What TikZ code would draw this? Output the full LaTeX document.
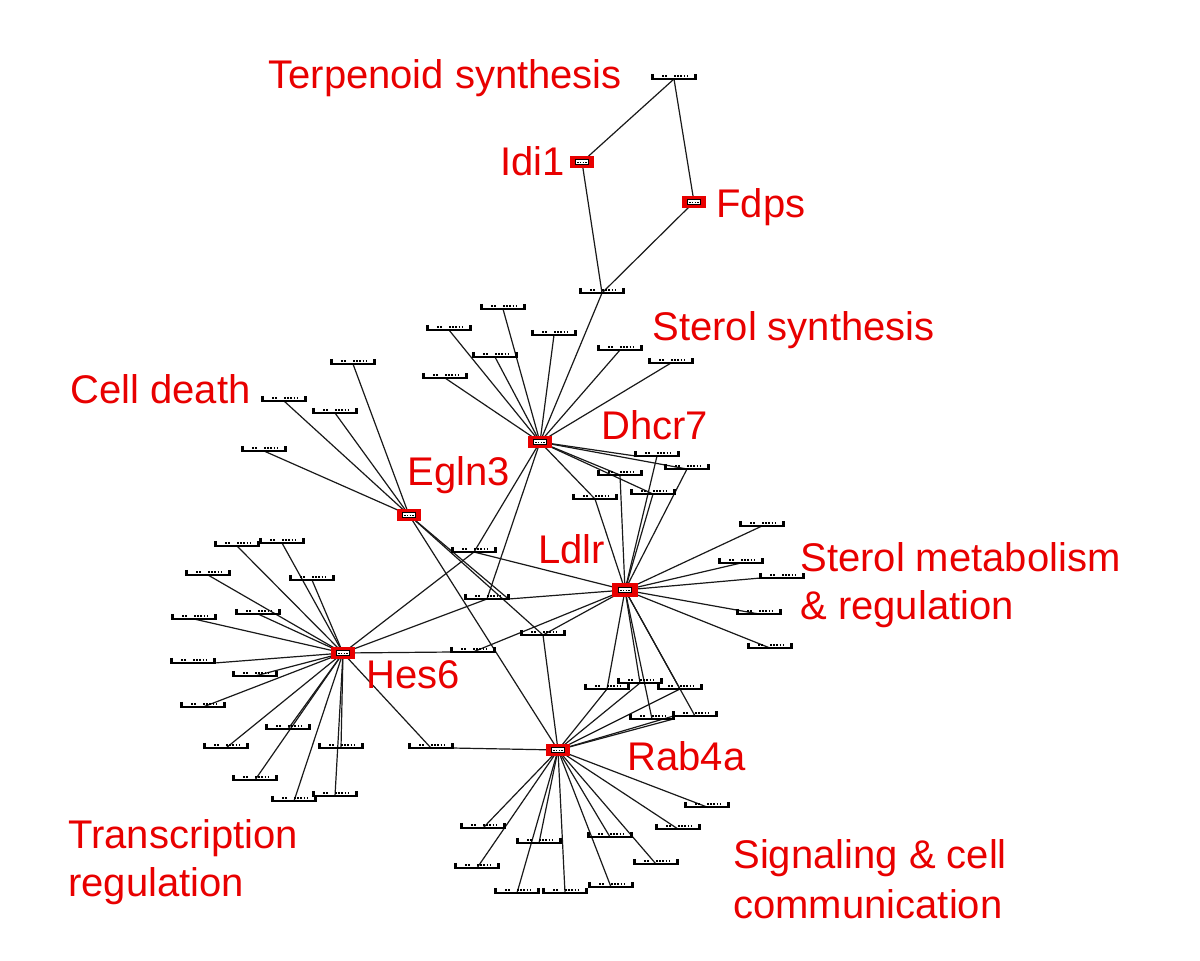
\documentclass[tikz,border=0pt]{standalone}
\usepackage{fontspec}
\setmainfont{Liberation Sans}
\usetikzlibrary{backgrounds}
\definecolor{lblred}{RGB}{232,0,0}
\begin{document}
\begin{tikzpicture}[x=0.5pt,y=-0.5pt,
  leaf/.style={inner sep=0pt, minimum width=21.5pt, minimum height=0pt, outer sep=0pt},
  bracket/.style={black, line width=1.1pt},
  tinytext/.style={black, line width=0.7pt, dash pattern=on 0.9pt off 0.7pt},
  hub/.style={draw=lblred, fill=lblred, line width=0.6pt, inner sep=0pt,
    minimum width=11pt, minimum height=5pt,
    path picture={
      \draw[black, fill=white, line width=0.45pt]
        ([shift={(-3.4pt,-1.1pt)}]path picture bounding box.center) rectangle
        ([shift={(3.4pt,1.1pt)}]path picture bounding box.center);
      \draw[black, line width=0.5pt, dash pattern=on 0.7pt off 0.6pt]
        ([shift={(-2.3pt,0pt)}]path picture bounding box.center) --
        ([shift={(2.3pt,0pt)}]path picture bounding box.center);}},
  lbl/.style={text=lblred, font=\fontsize{20}{24}\selectfont, inner sep=0pt, anchor=base west},
  edge/.style={black!90, line width=0.6pt},
]
\useasboundingbox (0,0) rectangle (1200,960);

% ---------- hubs ----------
\node[hub] (Idi1)  at (582,162) {};
\node[hub] (Fdps)  at (694,202) {};
\node[hub] (Dhcr7) at (540,442) {};
\node[hub] (Egln3) at (409,515) {};
\node[hub, minimum width=12pt, minimum height=6pt] (Ldlr) at (625,590) {};
\node[hub] (Hes6)  at (343,653) {};
\node[hub] (Rab4a) at (558,750) {};

% ---------- leaves ----------
\foreach \n/\x/\y in {
  T0/674/79, S0/602/293,
  nA/503/309, nB/449/330, nC/554/335, nD/495/357, nE/620/350, nF/671/363, nG/445/378,
  nH/657/456, nI/687/469, nJ/620/475, nK/653/494, nL/595/499,
  nM/474/552, nN/487/599, nO/473/652, nP/543/635,
  nQ/353/364, nS/284/401, nT/335/413, nU/264/451,
  h1/237/546, h2/282/543, h3/208/575, h4/312/580, h5/258/614, h6/194/619,
  h7/193/663, h8/255/676, h9/203/707, h10/288/729, h11/226/748, h12/341/748,
  h13/255/780, h14/294/801, h15/335/796, h16/431/748,
  r1/762/526, r2/741/563, r3/782/578, r4/759/614, r5/770/648,
  d1/607/689, d2/640/683, d3/680/689, d4/652/719, d5/695/716,
  b1/483/828, b2/539/843, b3/477/868, b4/517/893, b5/565/893,
  b6/611/887, b7/610/837, b8/656/864, b9/678/829, b10/707/807}
{
  \node[leaf] (\n) at (\x,\y) {};
  \draw[bracket] ([yshift=2.6pt]\n.west) -- (\n.west) -- (\n.east) -- ([yshift=2.6pt]\n.east);
  \draw[tinytext] ([shift={(-6pt,1.6pt)}]\n.center) -- ++(2.6pt,0pt);
  \draw[tinytext] ([shift={(0pt,1.6pt)}]\n.center) -- ++(6.5pt,0pt);
}

% ---------- edges ----------
\begin{scope}[on background layer]
\fill[white] (0,0) rectangle (1200,960);
% terpenoid
\draw[edge] (Idi1.center) -- (T0.center);
\draw[edge] (Fdps.center) -- (T0.center);
\draw[edge] (Idi1.center) -- (S0.center);
\draw[edge] (Fdps.center) -- (S0.center);
\draw[edge] (S0.center) -- (Dhcr7.center);
% sterol synthesis
\foreach \n in {nA,nB,nC,nD,nE,nF,nG,nI,nJ,nK,nL,nM,nN}
  \draw[edge] (\n.center) -- (Dhcr7.center);
\draw[edge] (nH.west) -- (Dhcr7.center);
\foreach \n in {nH,nI,nJ,nK,nL,nM,nO,nP}
  \draw[edge] (\n.center) -- (Ldlr.center);
\draw[edge] (nN.east) -- (Ldlr.center);
% middle
\draw[edge] (nM.center) -- (Hes6.center);
\draw[edge] (nN.center) -- (Hes6.center);
\draw[edge] (nO.west) -- (Hes6.center);
\draw[edge] (nP.center) -- (Rab4a.center);
\draw[edge] (nN.east) -- (Egln3.center);
\draw[edge] (nP.center) -- (Egln3.center);
\draw[edge] (Egln3.center) -- (Rab4a.center);
% cell death
\foreach \n in {nQ,nS,nT,nU}
  \draw[edge] (\n.center) -- (Egln3.center);
% transcription regulation
\foreach \n in {h1,h2,h3,h4,h5,h6,h8,h9,h10,h11,h12,h13,h14,h15,h16}
  \draw[edge] (\n.center) -- (Hes6.center);
\draw[edge] (h7.east) -- (Hes6.center);
\draw[edge] (h16.east) -- (Rab4a.center);
% sterol metabolism
\foreach \n in {r1,r2,r4,r5,d1,d2,d3,d4,d5}
  \draw[edge] (\n.center) -- (Ldlr.center);
\draw[edge] (r3.west) -- (Ldlr.center);
\foreach \n in {d1,d2,d3}
  \draw[edge] (\n.center) -- (Rab4a.center);
\draw[edge] (d4.east) -- (Rab4a.center);
\draw[edge] (d5.west) -- (Rab4a.center);
% signaling
\foreach \n in {b1,b2,b3,b4,b5,b6,b7,b8,b9,b10}
  \draw[edge] (\n.center) -- (Rab4a.center);
\end{scope}

% ---------- labels ----------
\node[lbl] (lTerp)  at (268,88)  {Terpenoid synthesis};
\node[lbl] (lIdi)   at (500,175) {Idi1};
\node[lbl] (lFdps)  at (716,217) {Fdps};
\node[lbl] (lSter)  at (652,340) {Sterol synthesis};
\node[lbl] (lCell)  at (70,403)  {Cell death};
\node[lbl] (lDhcr)  at (601,439) {Dhcr7};
\node[lbl] (lEgln)  at (407,485) {Egln3};
\node[lbl] (lLdlr)  at (538,563) {Ldlr};
\node[lbl] (lMetA)  at (800,571) {Sterol metabolism};
\node[lbl] (lMetB)  at (800,619) {\& regulation};
\node[lbl] (lHes)   at (366,688) {Hes6};
\node[lbl] (lRab)   at (627,770) {Rab4a};
\node[lbl] (lTrA)   at (68,848)  {Transcription};
\node[lbl] (lTrB)   at (68,896)  {regulation};
\node[lbl] (lSigA)  at (733,868) {Signaling \& cell};
\node[lbl] (lSigB)  at (733,918) {communication};
\end{tikzpicture}
\end{document}
